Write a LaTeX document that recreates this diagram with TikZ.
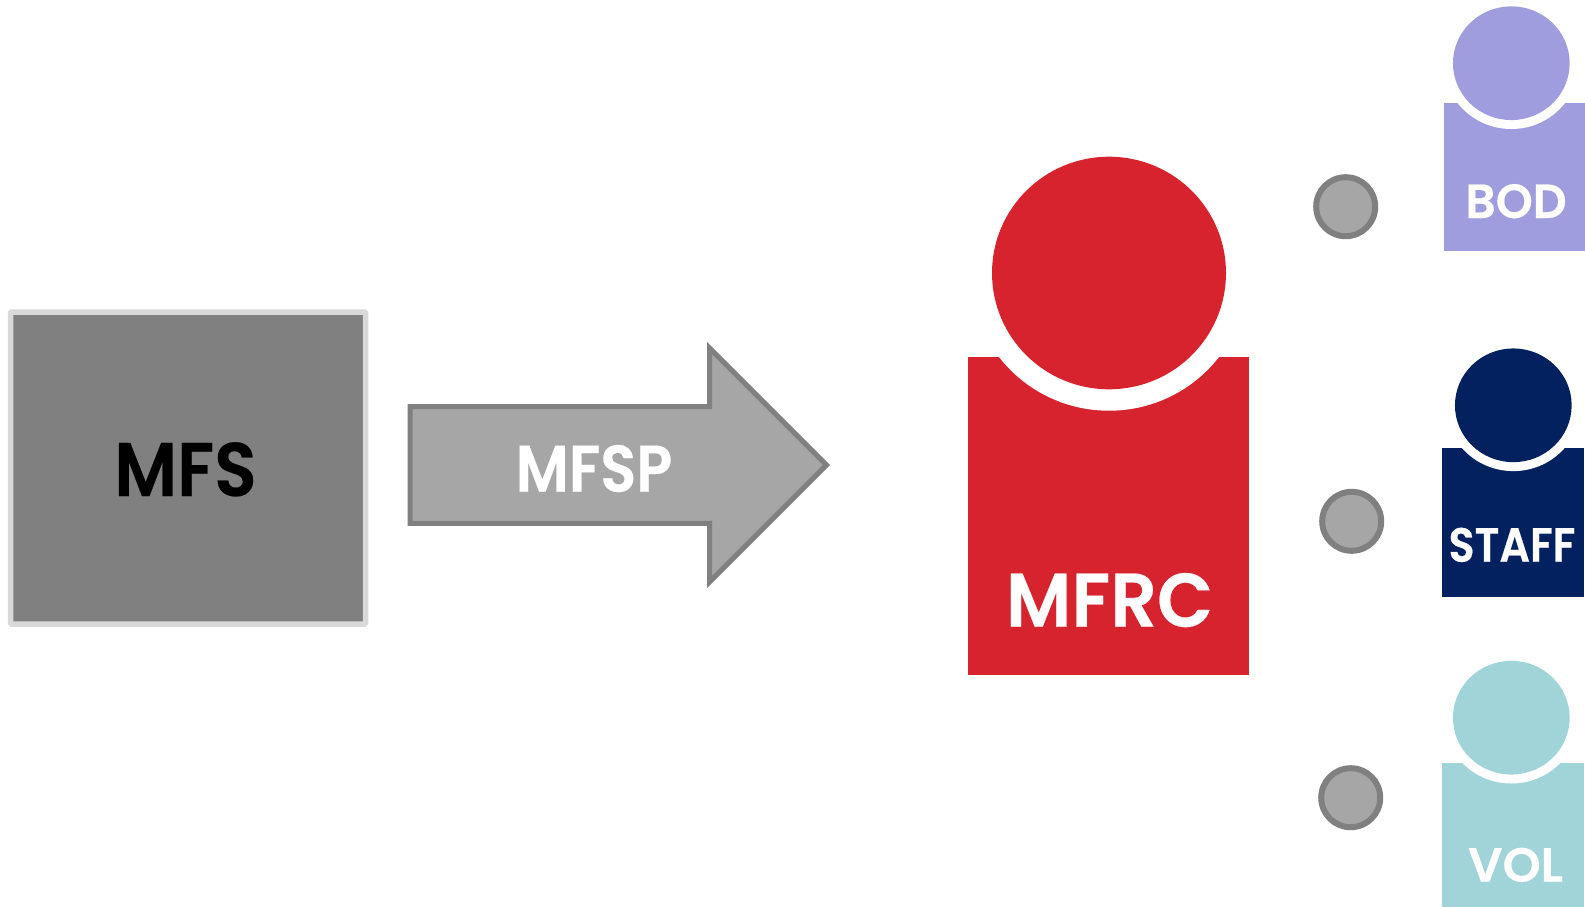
\documentclass[tikz,border=0pt]{standalone}
\usepackage{fontspec}
\setmainfont{Poppins}
\newfontfamily\lblfont[FakeStretch=0.92,FakeBold=0.3]{Poppins SemiBold}
\usetikzlibrary{positioning,shapes.geometric}
\definecolor{mfsgray}{HTML}{808080}
\definecolor{mfsedge}{HTML}{D9D9D9}
\definecolor{arrowgray}{HTML}{A6A6A6}
\definecolor{mfrcred}{HTML}{D7232E}
\definecolor{bodblue}{HTML}{9F9DDE}
\definecolor{staffblue}{HTML}{03215F}
\definecolor{volteal}{HTML}{A0D4D8}

\begin{document}
\begin{tikzpicture}[x=1pt,y=-1pt,
    head/.style={ellipse,fill=#1,inner sep=0pt,minimum width=116.7pt,minimum height=113.7pt},
    neck/.style={ellipse,fill=white,inner sep=0pt,minimum width=135pt,minimum height=131.6pt},
    body/.style={rectangle,fill=#1,inner sep=0pt,anchor=north west},
    dot/.style={circle,draw=mfsgray,fill=arrowgray,line width=6pt,inner sep=0pt,minimum size=59pt},
    lbl/.style={text=white,inner sep=0pt,anchor=base,font=\lblfont\fontsize{48}{48}\selectfont}]
  \useasboundingbox (0,0) rectangle (1585,907);

  % left box and arrow
  \node[rectangle,rounded corners=1pt,draw=mfsedge,fill=mfsgray,line width=5.5pt,inner sep=0pt,
    minimum width=355pt,minimum height=312pt] (mfs) at (188,468) {};
  \node[lbl,text=black,font=\lblfont\fontsize{76}{76}\selectfont] (mfsl) at (185.5,496) {MFS};
  \draw[draw=mfsgray,fill=arrowgray,line width=5pt,miter limit=10] (410,406.5) -- (709.5,406.5) -- (709.5,348)
    -- (826.5,465) -- (709.5,582) -- (709.5,523.3) -- (410,523.3) -- cycle;
  \node[lbl,font=\lblfont\fontsize{66}{66}\selectfont] (mfsp) at (594,491.7) {\scalebox{0.975}[1]{MFSP}};

  % big person
  \node[body=mfrcred,minimum width=281pt,minimum height=317.7pt] (mfrcb) at (968,357) {};
  \node[neck,minimum width=277.6pt,minimum height=275.4pt] (mfrcn) at (1109,273) {};
  \node[head=mfrcred,minimum width=234pt,minimum height=232.6pt] (mfrch) at (1109,273) {};
  \node[lbl,font=\lblfont\fontsize{76}{76}\selectfont] (mfrc) at (1109.5,626.7) {\scalebox{1.045}[1]{MFRC}};

  % small people
  \node[body=bodblue,minimum width=141pt,minimum height=147.7pt] (bodb) at (1444,103) {};
  \node[neck] (bodn) at (1511.3,63.2) {};
  \node[head=bodblue] (bodh) at (1511.3,63.2) {};
  \node[lbl] (bod) at (1516,218) {\scalebox{1.07}[1]{BOD}};

  \node[body=staffblue,minimum width=142pt,minimum height=148.7pt] (staffb) at (1442,448) {};
  \node[neck] (staffn) at (1513.3,405.3) {};
  \node[head=staffblue] (staffh) at (1513.3,405.3) {};
  \node[lbl] (staff) at (1512,561.7) {\scalebox{0.97}[1]{STAFF}};

  \node[body=volteal,minimum width=142pt,minimum height=144pt] (volb) at (1442,763) {};
  \node[neck] (voln) at (1511.3,717.7) {};
  \node[head=volteal] (volh) at (1511.3,717.7) {};
  \node[lbl] (vol) at (1515.5,881.7) {\scalebox{1.1}[1]{VOL}};

  % dots
  \node[dot] (dot1) at (1345.7,206.7) {};
  \node[dot] (dot2) at (1351.7,521.3) {};
  \node[dot] (dot3) at (1350.7,797.7) {};
\end{tikzpicture}
\end{document}
